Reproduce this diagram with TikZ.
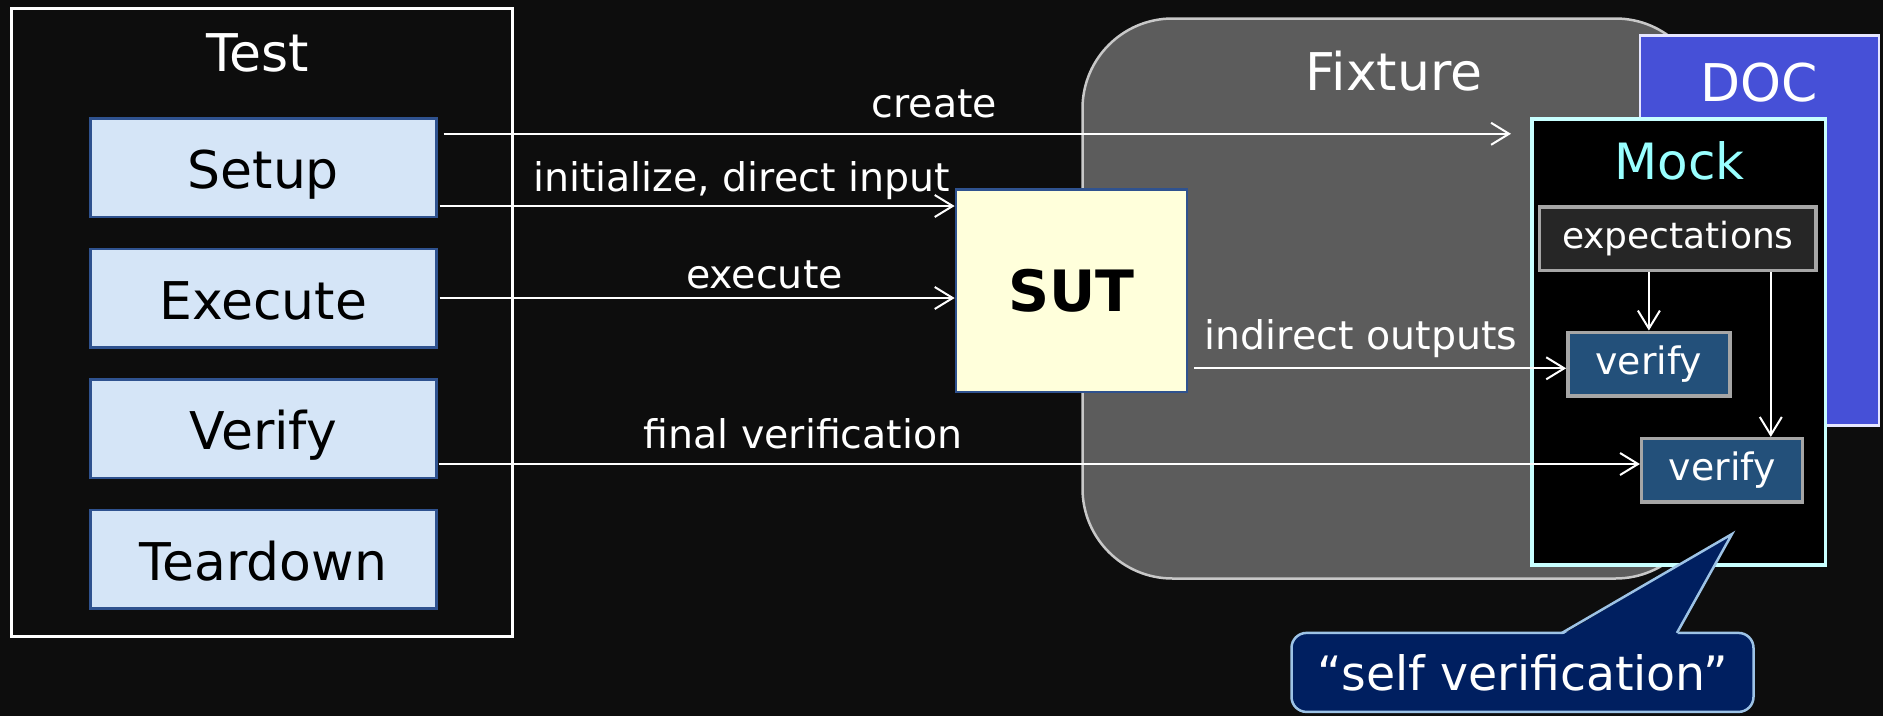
\documentclass[tikz,border=0pt]{standalone}
\usepackage{fontspec}
\setmainfont{DejaVu Sans}
\usepackage{xcolor}
\usetikzlibrary{arrows.meta,positioning,calc}

\definecolor{bgc}{HTML}{0D0D0D}
\definecolor{stepfill}{HTML}{D5E5F7}
\definecolor{stepline}{HTML}{2F528F}
\definecolor{sutfill}{HTML}{FFFFDB}
\definecolor{fixfill}{HTML}{5C5C5C}
\definecolor{fixline}{HTML}{C8C8C8}
\definecolor{docfill}{HTML}{4650D7}
\definecolor{docline}{HTML}{E6E6FF}
\definecolor{mockline}{HTML}{C8FFFF}
\definecolor{mocktext}{HTML}{99FFFF}
\definecolor{expfill}{HTML}{262626}
\definecolor{boxline}{HTML}{A6A6A6}
\definecolor{verfill}{HTML}{23507A}
\definecolor{callfill}{HTML}{001F60}
\definecolor{callline}{HTML}{9DC3E6}

\newcommand{\titlesize}{\fontsize{52}{62}\selectfont}
\newcommand{\lblsize}{\fontsize{39.5}{47}\selectfont}
\newcommand{\innersize}{\fontsize{36}{43}\selectfont}

\tikzset{
  stepbox/.style={draw=stepline,fill=stepfill,line width=2.5pt,minimum width=346pt,minimum height=98.5pt,
    text height=42pt,text depth=0pt,font=\titlesize,text=black},
  title/.style={font=\titlesize},
  lbl/.style={font=\lblsize,anchor=base},
  innerbox/.style={draw=boxline,line width=3.5pt,minimum height=63.5pt},
  arr/.style={->,draw=white,line width=2pt}
}

\begin{document}
\begin{tikzpicture}[x=1pt,y=-1pt,node distance=29.5pt,>={Straight Barb[length=18pt,width=22pt]},
  every node/.style={inner sep=0pt,text=white}]
\fill[bgc] (0,0) rectangle (1883,716);
\useasboundingbox (0,0) rectangle (1883,716);
% test side
\node[draw=white,line width=2.5pt,minimum width=501pt,minimum height=628pt] (test) at (262,322.4) {};
\node[title,anchor=base] (testlbl) at (258,71.7) {Test};
\node[stepbox] (setup) at (263.3,167.5) {Setup};
\node[stepbox,below=of setup] (execute) {Execute};
\node[stepbox,below=of execute] (verify) {Verify};
\node[stepbox,below=of verify] (teardown) {Teardown};
% fixture, doc and mock
\node[draw=fixline,fill=fixfill,line width=2.5pt,rounded corners=90pt,minimum width=623pt,minimum height=560pt] (fixture) at (1394,298.5) {};
\node[title,anchor=base] (fixlbl) at (1394,90.7) {Fixture};
\node[draw=docline,fill=docfill,line width=2.5pt,minimum width=239pt,minimum height=390pt] (doc) at (1759.4,230.7) {};
\node[title,anchor=base] (doclbl) at (1759.5,101.7) {DOC};
\node[draw=mockline,fill=black,line width=3.5pt,minimum width=293.5pt,minimum height=446pt] (mock) at (1678.5,342) {};
\node[title,font=\fontsize{50}{60}\selectfont,text=mocktext,anchor=base] (mocklbl) at (1679.6,179.3) {Mock};
\node[innerbox,fill=expfill,minimum width=276.5pt,font=\innersize] (exp) at (1677.8,238.5) {expectations};
\node[innerbox,fill=verfill,minimum width=162pt,font=\fontsize{37.8}{45}\selectfont] (v1) at (1648.9,364) {verify};
\node[innerbox,fill=verfill,minimum width=161pt,font=\fontsize{37.8}{45}\selectfont] (v2) at (1722.2,470.4) {verify};
\node[draw=stepline,fill=sutfill,line width=2.5pt,minimum width=231pt,minimum height=202.5pt,font=\fontsize{57}{68}\selectfont\bfseries,text=black] (sut) at (1071.4,290.5) {SUT};
% connectors
\draw[arr,shorten >=19pt] ([xshift=6pt,yshift=33.7pt]setup.east) coordinate (cs) -- (cs -| mock.west);
\draw[arr] ([xshift=2pt,yshift=-38.5pt]setup.east) coordinate (ci) -- (ci -| sut.west);
\draw[arr] ([xshift=2pt]execute.east) -- (execute.east -| sut.west);
\draw[arr] ([xshift=6pt,yshift=-77.8pt]sut.east) coordinate (co) -- (co -| v1.west);
\draw[arr] ([xshift=1pt,yshift=-35.5pt]verify.east) coordinate (cf) -- (cf -| v2.west);
\draw[arr] (v1.north |- exp.south) -- (v1.north);
\draw[arr] ([xshift=93pt]exp.south) coordinate (ce) -- (ce |- v2.north);
\node[lbl] (lcreate) at (934.5,117.3) {create};
\node[lbl] (linit) at (741.5,191.7) {initialize, direct input};
\node[lbl] (lexec) at (764.5,288.3) {execute};
\node[lbl] (lindir) at (1361,349) {indirect outputs};
\node[lbl] (lfinal) at (803,448.3) {final verification};
% callout
\node[draw=callline,fill=callfill,line width=2.5pt,rounded corners=15pt,minimum width=462pt,minimum height=79pt,font=\fontsize{47.4}{56}\selectfont] (self) at (1522.5,672.4) {“self verification”};
\coordinate (tip) at (1732,534);
\fill[callfill] ([xshift=271.7pt,yshift=-3.5pt]self.north west) -- (tip) -- ([xshift=386.7pt,yshift=-3.5pt]self.north west) -- cycle;
\draw[callline,line width=2.5pt] ([xshift=271.7pt,yshift=-1.25pt]self.north west) -- (tip) -- ([xshift=386.7pt,yshift=-1.25pt]self.north west);
\end{tikzpicture}
\end{document}
